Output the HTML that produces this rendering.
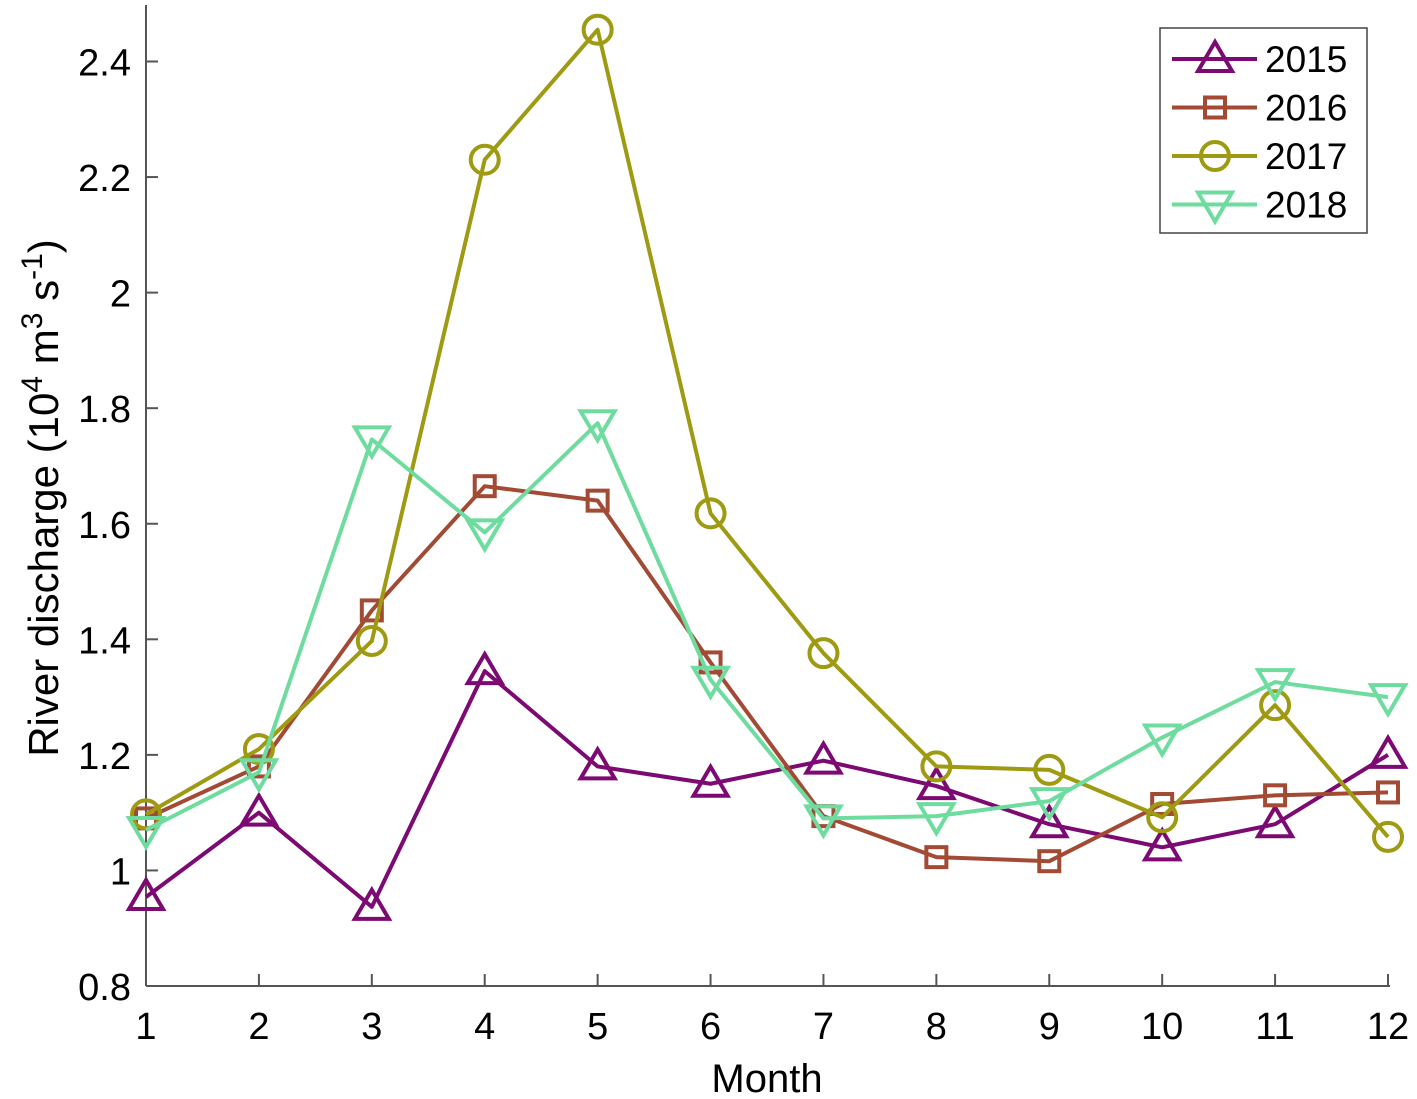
<!DOCTYPE html>
<html><head><meta charset="utf-8"><style>
body{margin:0;background:#fff;}
svg{display:block;font-family:"Liberation Sans",Arial,sans-serif;}
</style></head><body>
<svg id="chart" width="1417" height="1099" viewBox="0 0 1417 1099" xmlns="http://www.w3.org/2000/svg">
<g id="axes"></g>
<g id="series"></g>
<g id="legend"></g>
</svg>
<script>
const months = [1,2,3,4,5,6,7,8,9,10,11,12];
const yTicks = [0.8,1,1.2,1.4,1.6,1.8,2,2.2,2.4];
const yTickLabels = ["0.8","1","1.2","1.4","1.6","1.8","2","2.2","2.4"];
const s2015 = [0.954,1.10,0.937,1.345,1.18,1.15,1.19,1.146,1.08,1.04,1.08,1.20];
const s2016 = [1.09,1.18,1.45,1.665,1.64,1.36,1.094,1.023,1.016,1.115,1.13,1.135];
const s2017 = [1.097,1.21,1.397,2.23,2.455,1.618,1.376,1.18,1.174,1.092,1.286,1.058];
const s2018 = [1.07,1.17,1.746,1.585,1.774,1.33,1.09,1.094,1.12,1.23,1.326,1.30];
const seriesNames = ["2015","2016","2017","2018"];

const NS="http://www.w3.org/2000/svg";
const X0=146, X1=1388, Y0=986, Y1=61.5;
const xs = m => X0+(m-1)*(X1-X0)/11;
const ys = v => Y0-(v-0.8)*(Y0-Y1)/1.6;
function el(tag,attrs,parent){const e=document.createElementNS(NS,tag);for(const k in attrs)e.setAttribute(k,attrs[k]);parent.appendChild(e);return e;}
const axes=document.getElementById('axes');
let a=el('line',{x1:X0,y1:Y0,x2:X1+2,y2:Y0,stroke:'#555','stroke-width':2},axes);


a=el('line',{x1:X0,y1:Y0,x2:X0,y2:5,stroke:'#555','stroke-width':2},axes);


months.forEach(m=>{
  const t=el('line',{x1:xs(m),y1:Y0,x2:xs(m),y2:Y0-12,stroke:'#555','stroke-width':2},axes);
  
  
  const l=el('text',{x:xs(m),y:1039,'text-anchor':'middle','font-size':38},axes);
  l.textContent=m;
  
  
});
yTicks.forEach((v,i)=>{
  const t=el('line',{x1:X0,y1:ys(v),x2:X0+12,y2:ys(v),stroke:'#555','stroke-width':2},axes);
  
  
  const l=el('text',{x:131,y:ys(v)+14,'text-anchor':'end','font-size':38},axes);
  l.textContent=yTickLabels[i];
  
  
});
let xt=el('text',{x:767,y:1092,'text-anchor':'middle','font-size':40},axes);
xt.textContent='Month';


let yt=el('text',{transform:'translate(58,498) rotate(-90)','text-anchor':'middle','font-size':42},axes);
yt.innerHTML='River discharge (10<tspan dy="-16" font-size="30">4</tspan><tspan dy="16"> m</tspan><tspan dy="-16" font-size="30">3</tspan><tspan dy="16"> s</tspan><tspan dy="-16" font-size="30">-1</tspan><tspan dy="16">)</tspan>';



const colors=['#7c0a72','#a24a34','#9e9a12','#6ddc9e'];
const markers=['tri','sq','circ','dtri'];
function marker(type,x,y,c,p){
  let m;
  if(type==='tri') m=el('polygon',{points:`${x},${y-17} ${x-17},${y+12} ${x+17},${y+12}`},p);
  else if(type==='dtri') m=el('polygon',{points:`${x},${y+17} ${x-17},${y-12} ${x+17},${y-12}`},p);
  else if(type==='sq') m=el('rect',{x:x-10,y:y-10,width:20,height:20},p);
  else m=el('circle',{cx:x,cy:y,r:14},p);
  m.setAttribute('fill','none');m.setAttribute('stroke',c);m.setAttribute('stroke-width',4);
  return m;
}
const sg=document.getElementById('series');
[s2015,s2016,s2017,s2018].forEach((s,i)=>{
  const g=el('g',{},sg);
  
  
  const ln=el('polyline',{points:s.map((v,j)=>xs(months[j])+','+ys(v)).join(' '),fill:'none',stroke:colors[i],'stroke-width':4,'stroke-linejoin':'round'},g);
  
  
  s.forEach((v,j)=>{
    const mk=marker(markers[i],xs(months[j]),ys(v),colors[i],g);
    
    
  });
});
const lg=document.getElementById('legend');
const box=el('rect',{x:1160,y:28,width:207,height:205,fill:'#fff',stroke:'#444','stroke-width':1.5},lg);


seriesNames.forEach((n,i)=>{
  const y=59+i*48.5;
  const g=el('g',{},lg);
  
  
  el('line',{x1:1172,y1:y,x2:1257,y2:y,stroke:colors[i],'stroke-width':4},g);
  marker(markers[i],1215,y,colors[i],g);
  const t=el('text',{x:1265,y:y+13,'font-size':37},g);
  t.textContent=n;
});
</script>
</body></html>
